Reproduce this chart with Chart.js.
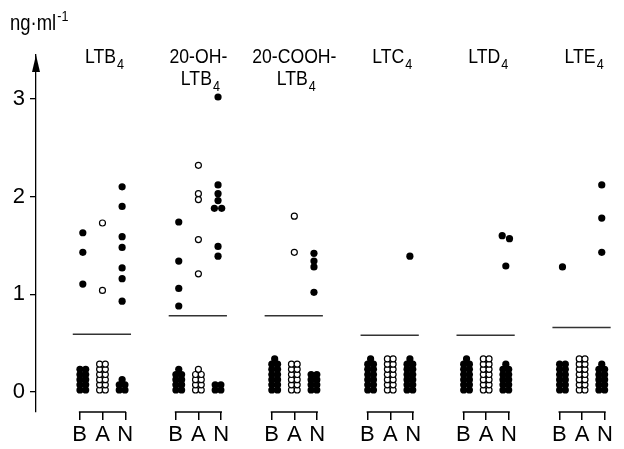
<!DOCTYPE html>
<html><head><meta charset="utf-8">
<script src="https://cdn.jsdelivr.net/npm/chart.js@4/dist/chart.umd.min.js"></script>
<style>html,body{margin:0;padding:0;background:#fff;}#wrap{width:624px;height:449px;position:relative;}</style>
</head><body><div id="wrap"><canvas id="c"></canvas></div>
<script>
// ---- data ----
const groups = ['LTB4', '20-OH-LTB4', '20-COOH-LTB4', 'LTC4', 'LTD4', 'LTE4'];
const groupTitleLines = [
  [['LTB', '4']],
  [['20-OH-', ''], ['LTB', '4']],
  [['20-COOH-', ''], ['LTB', '4']],
  [['LTC', '4']],
  [['LTD', '4']],
  [['LTE', '4']]
];
const subLabels = ['B', 'A', 'N'];
// measured concentrations (ng/ml) above detection limit
const valuesB = [[1.63, 1.43, 1.105], [1.74, 1.34, 1.06, 0.88], [], [], [], [1.28]];
const valuesA = [[1.73, 1.04], [2.32, 2.03, 1.97, 1.56, 1.21], [1.80, 1.43], [], [], []];
const valuesN = [[2.10, 1.90, 1.59, 1.48, 1.27, 1.16, 0.93],
                 [3.02, 2.12, 2.03, 1.96, 1.88, 1.88, 1.49, 1.39],
                 [1.42, 1.34, 1.28, 1.02], [1.39], [1.60, 1.57, 1.29], [2.12, 1.78, 1.43]];
// number of samples below detection limit
const belowB = [10, 9, 13, 13, 13, 12];
const belowA = [12, 9, 12, 14, 14, 14];
const belowN = [5, 4, 8, 13, 11, 11];
const detectionLimit = [0.59, 0.78, 0.78, 0.58, 0.58, 0.66];
const yTicks = [0, 1, 2, 3];
const yUnit = ['ng·ml', '-1'];

// ---- layout helpers ----
const FONT = "'Liberation Sans', Arial, sans-serif";
const SQUEEZE = 0.84;
const GROUP_STEP = 4.2;
const colX = (g, s) => g * GROUP_STEP + s;
const dotX = (g, s) => g * GROUP_STEP + 1 + (s - 1) * 0.86;
const STACK_BASE = 0.02, STACK_STEP = 0.053, STACK_DX = 0.125;

function buildPoints(values, below, s) {
  const pts = [];
  values.forEach((vals, g) => {
    const sorted = vals.slice().sort((a, b) => b - a);
    for (let i = 0; i < sorted.length; i++) {
      let dx = 0;
      if (i > 0 && Math.abs(sorted[i] - sorted[i - 1]) < 0.04) dx = 0.16;
      if (i < sorted.length - 1 && Math.abs(sorted[i] - sorted[i + 1]) < 0.04) dx = -0.16;
      pts.push({x: dotX(g, s) + dx, y: sorted[i]});
    }
    const n = below[g];
    const pairs = Math.floor(n / 2);
    for (let r = 0; r < pairs; r++) {
      pts.push({x: dotX(g, s) - STACK_DX, y: STACK_BASE + r * STACK_STEP});
      pts.push({x: dotX(g, s) + STACK_DX, y: STACK_BASE + r * STACK_STEP});
    }
    if (n % 2) pts.push({x: dotX(g, s), y: STACK_BASE + pairs * STACK_STEP});
  });
  return pts;
}

const filled = {backgroundColor: '#000', borderColor: '#000', borderWidth: 0, pointRadius: 3.6, pointHoverRadius: 3.6};
const open = {backgroundColor: '#fff', borderColor: '#000', borderWidth: 1.2, pointRadius: 3, pointHoverRadius: 3};

const datasets = [
  Object.assign({label: 'B', data: buildPoints(valuesB, belowB, 0)}, filled),
  Object.assign({label: 'A', data: buildPoints(valuesA, belowA, 1)}, open),
  Object.assign({label: 'N', data: buildPoints(valuesN, belowN, 2)}, filled)
];
detectionLimit.forEach((lod, g) => {
  datasets.push({
    type: 'line', label: 'limit ' + groups[g],
    data: [{x: colX(g, 0) - 0.3, y: lod}, {x: colX(g, 2) + 0.25, y: lod}],
    borderColor: '#333', borderWidth: 1.5, pointRadius: 0, fill: false
  });
});

const xTickValues = [];
groups.forEach((_, g) => subLabels.forEach((_, s) => xTickValues.push(colX(g, s))));

function squeezedText(ctx, text, x, y, size) {
  ctx.font = size + 'px ' + FONT;
  ctx.save();
  ctx.translate(x, y);
  ctx.scale(SQUEEZE, 1);
  ctx.fillText(text, 0, 0);
  ctx.restore();
  return ctx.measureText(text).width * SQUEEZE;
}
function squeezedWidth(ctx, text, size) {
  ctx.font = size + 'px ' + FONT;
  return ctx.measureText(text).width * SQUEEZE;
}

const decorations = {
  id: 'decorations',
  afterDraw(chart) {
    const ctx = chart.ctx, xs = chart.scales.x, ca = chart.chartArea;
    ctx.save();
    ctx.fillStyle = '#000'; ctx.strokeStyle = '#000';
    // arrow head on y axis
    const ax = ca.left;
    ctx.beginPath();
    ctx.moveTo(ax, ca.top);
    ctx.lineTo(ax - 4, ca.top + 17);
    ctx.lineTo(ax + 4, ca.top + 17);
    ctx.closePath(); ctx.fill();
    // brackets
    ctx.lineWidth = 1.5;
    groups.forEach((_, g) => {
      ctx.beginPath();
      ctx.moveTo(xs.getPixelForValue(colX(g, 0)) - 0.75, ca.bottom);
      ctx.lineTo(xs.getPixelForValue(colX(g, 2)) + 0.75, ca.bottom);
      ctx.stroke();
    });
    // group titles
    ctx.textBaseline = 'alphabetic';
    ctx.textAlign = 'left';
    groupTitleLines.forEach((lines, g) => {
      const cx = xs.getPixelForValue(colX(g, 1));
      lines.forEach((parts, li) => {
        const base = 63 + li * 22;
        const w1 = squeezedWidth(ctx, parts[0], 21);
        const w2 = parts[1] ? squeezedWidth(ctx, parts[1], 15) + 1 : 0;
        const x0 = cx - (w1 + w2) / 2 + (parts[1] ? 2 : 0);
        squeezedText(ctx, parts[0], x0, base, 21);
        if (parts[1]) squeezedText(ctx, parts[1], x0 + w1 + 1, base + 6, 15);
      });
    });
    // unit label
    const wu = squeezedText(ctx, yUnit[0], 10, 30, 22);
    squeezedText(ctx, yUnit[1], 10 + wu + 1, 21, 15);
    ctx.restore();
  }
};

new Chart(document.getElementById('c'), {
  type: 'scatter',
  data: {datasets},
  options: {
    responsive: true, maintainAspectRatio: false, animation: false,
    layout: {padding: {top: 55, right: 0, bottom: 0, left: 0}},
    plugins: {legend: {display: false}, tooltip: {enabled: false}},
    scales: {
      x: {
        type: 'linear', min: -1.91, max: 23.65,
        afterBuildTicks: ax => { ax.ticks = xTickValues.map(v => ({value: v})); },
        afterFit: s => { s.height = 37; },
        grid: {drawOnChartArea: false, drawTicks: true, tickLength: 8, color: '#000', lineWidth: 1.5},
        border: {display: false},
        ticks: {callback: (v, i) => subLabels[i % 3], color: '#000', font: {size: 22, family: FONT},
                padding: 2, maxRotation: 0, autoSkip: false}
      },
      y: {
        type: 'linear', min: -0.205, max: 3.45,
        afterBuildTicks: ax => { ax.ticks = yTicks.map(v => ({value: v})); },
        afterFit: s => { s.width = 36; },
        grid: {drawOnChartArea: false, drawTicks: true, tickLength: 6, color: '#000', lineWidth: 1.3},
        border: {display: true, color: '#000', width: 1.3},
        ticks: {color: '#000', font: {size: 22, family: FONT}, padding: 5}
      }
    }
  },
  plugins: [decorations]
});
</script></body></html>
